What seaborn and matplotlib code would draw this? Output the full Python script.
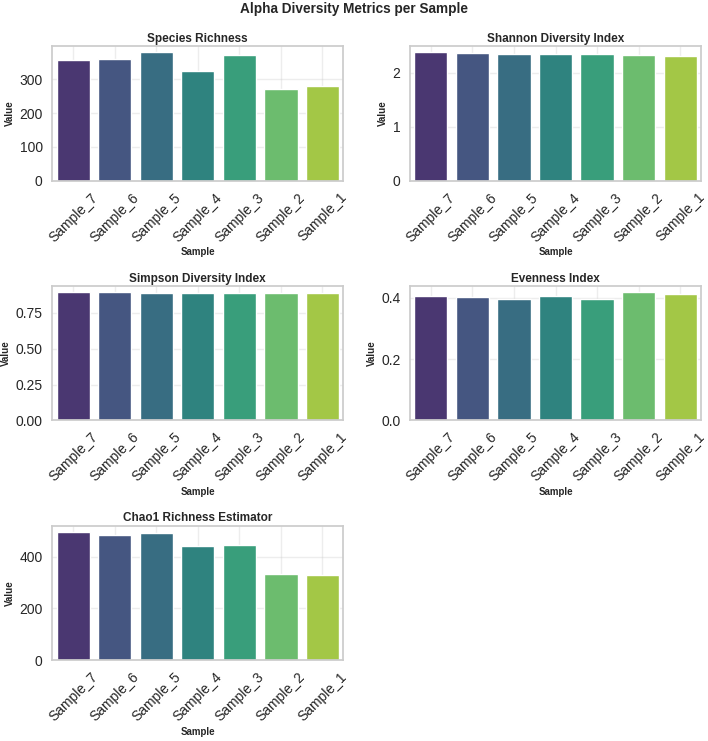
import seaborn as sns
import matplotlib
matplotlib.use("Agg")
import matplotlib.pyplot as plt
import pandas as pd

# Sample order as shown on the x axis
samples = ["Sample_7", "Sample_6", "Sample_5", "Sample_4", "Sample_3", "Sample_2", "Sample_1"]

# Metric values
species_richness = [357, 361, 380, 324, 372, 271, 281]
shannon_index = [2.38, 2.37, 2.35, 2.35, 2.35, 2.34, 2.31]
simpson_index = [0.893, 0.891, 0.889, 0.889, 0.889, 0.888, 0.887]
evenness_index = [0.407, 0.403, 0.396, 0.407, 0.398, 0.419, 0.412]
chao1_estimator = [495, 485, 490, 439, 444, 332, 328]

metrics = {
    "Species Richness": species_richness,
    "Shannon Diversity Index": shannon_index,
    "Simpson Diversity Index": simpson_index,
    "Evenness Index": evenness_index,
    "Chao1 Richness Estimator": chao1_estimator,
}

sns.set_theme(style="whitegrid")
plt.rcParams["font.family"] = ["Liberation Sans", "DejaVu Sans"]

fig, axes = plt.subplots(3, 2, figsize=(7.08, 7.41), dpi=100)
axes = axes.flatten()

for ax, (title, values) in zip(axes, metrics.items()):
    df = pd.DataFrame({"Sample": samples, "Value": values})
    sns.barplot(data=df, x="Sample", y="Value", hue="Sample", palette="viridis",
                legend=False, ax=ax)
    ax.set_title(title, fontsize=8.5, fontweight="bold", pad=3)
    ax.set_xlabel("Sample", fontsize=7, fontweight="bold", labelpad=2)
    ax.set_ylabel("Value", fontsize=7, fontweight="bold", labelpad=3)
    ax.tick_params(axis="x", labelrotation=45, labelsize=10, pad=1)
    ax.tick_params(axis="y", labelsize=10, pad=1)
    ax.grid(True, axis="both", alpha=0.35)
    ax.set_axisbelow(True)

# Hide the unused sixth panel
axes[-1].set_visible(False)

fig.suptitle("Alpha Diversity Metrics per Sample", fontsize=9.8, fontweight="bold", y=0.997)
fig.subplots_adjust(left=0.074, right=0.99, top=0.938, bottom=0.109, wspace=0.23, hspace=0.78)
fig.savefig("out.png", dpi=100)
